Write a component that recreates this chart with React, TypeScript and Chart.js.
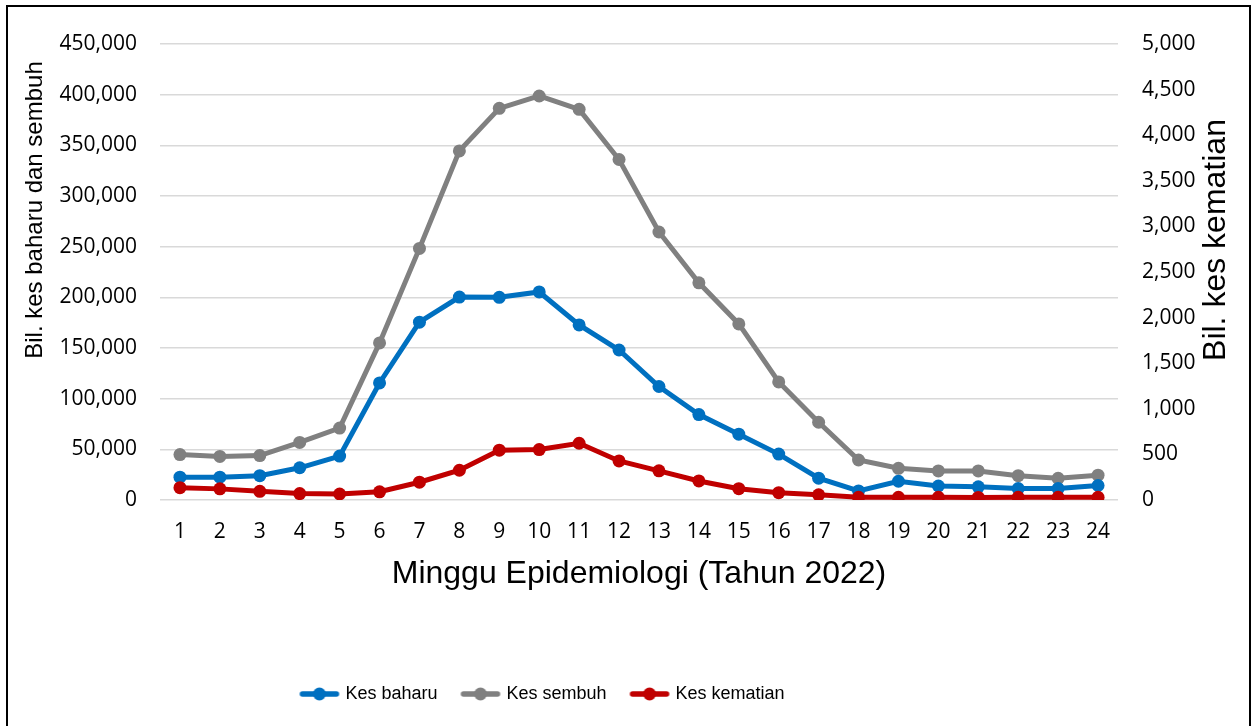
import React, { useEffect, useRef } from "react";
import { Chart, registerables } from "chart.js";

Chart.register(...registerables);

const weeks = ["1","2","3","4","5","6","7","8","9","10","11","12","13","14","15","16","17","18","19","20","21","22","23","24"];
const kesBaharu = [22500, 22500, 24000, 31800, 43300, 115500, 175500, 200300, 200000, 205300, 172800, 148000, 112000, 84300, 65000, 45300, 21500, 9000, 18500, 13800, 13000, 11300, 11300, 14300];
const kesSembuh = [44800, 43000, 43800, 56800, 71000, 155000, 248300, 344500, 386500, 398700, 385500, 336000, 264500, 214300, 173800, 116500, 76700, 39500, 31300, 28700, 28700, 24000, 21400, 24500];
const kesKematian = [135, 122, 95, 70, 66, 90, 195, 326, 546, 553, 622, 428, 320, 209, 124, 80, 57, 30, 30, 30, 28, 30, 30, 30];

const seriesLabels = ["Kes baharu", "Kes sembuh", "Kes kematian"];
const seriesColors = ["#0070C0", "#808080", "#C00000"];

const TICK_FONT = "'Open Sans', sans-serif";
const TEXT_FONT = "'Liberation Sans', Arial, sans-serif";

function makeIcon(color: string): HTMLCanvasElement {
  const c = document.createElement("canvas");
  c.width = 46;
  c.height = 16;
  const ctx = c.getContext("2d")!;
  ctx.strokeStyle = color;
  ctx.lineWidth = 5.5;
  ctx.lineCap = "round";
  ctx.beginPath();
  ctx.moveTo(6, 8);
  ctx.lineTo(40, 8);
  ctx.stroke();
  ctx.fillStyle = color;
  ctx.beginPath();
  ctx.arc(23, 8, 6.5, 0, Math.PI * 2);
  ctx.fill();
  return c;
}

export default function App() {
  const ref = useRef<HTMLCanvasElement | null>(null);

  useEffect(() => {
    if (!ref.current) return;
    const icons = seriesColors.map(makeIcon);

    const titlesPlugin = {
      id: "yTitles",
      afterLayout(chart: any) {
        const lg = chart.legend;
        if (lg) {
          lg.left -= 85;
          lg.right -= 85;
        }
      },
      afterDraw(chart: any) {
        const ctx = chart.ctx;
        ctx.save();
        ctx.fillStyle = "#000";
        ctx.textAlign = "center";
        ctx.textBaseline = "middle";
        ctx.font = `24px ${TEXT_FONT}`;
        ctx.translate(27, 203);
        ctx.rotate(-Math.PI / 2);
        ctx.fillText("Bil. kes baharu dan sembuh", 0, 0);
        ctx.restore();
        ctx.save();
        ctx.fillStyle = "#000";
        ctx.textAlign = "center";
        ctx.textBaseline = "middle";
        ctx.font = `32px ${TEXT_FONT}`;
        ctx.translate(1208, 233);
        ctx.rotate(-Math.PI / 2);
        ctx.fillText("Bil. kes kematian", 0, 0);
        ctx.restore();
      },
    };

    const common = {
      borderWidth: 5,
      pointRadius: 6.5,
      pointHoverRadius: 6.5,
      pointBorderWidth: 0,
      tension: 0,
      fill: false,
    };

    const chart = new Chart(ref.current, {
      type: "line",
      data: {
        labels: weeks,
        datasets: [
          { ...common, label: seriesLabels[0], data: kesBaharu, borderColor: seriesColors[0], backgroundColor: seriesColors[0], pointBackgroundColor: seriesColors[0], yAxisID: "y", order: 2 },
          { ...common, label: seriesLabels[1], data: kesSembuh, borderColor: seriesColors[1], backgroundColor: seriesColors[1], pointBackgroundColor: seriesColors[1], yAxisID: "y", order: 3 },
          { ...common, label: seriesLabels[2], data: kesKematian, borderColor: seriesColors[2], backgroundColor: seriesColors[2], pointBackgroundColor: seriesColors[2], yAxisID: "y1", order: 1 },
        ],
      },
      options: {
        responsive: false,
        animation: false,
        layout: { padding: { top: 37, left: 0, right: 0, bottom: 13 } },
        plugins: {
          tooltip: { enabled: false },
          legend: {
            position: "bottom",
            labels: {
              usePointStyle: true,
              pointStyleWidth: 34,
              padding: 26,
              color: "#000",
              font: { family: TEXT_FONT, size: 18 },
              generateLabels: (ch: any) =>
                ch.data.datasets.map((ds: any, i: number) => ({
                  text: ds.label,
                  fillStyle: ds.borderColor,
                  strokeStyle: ds.borderColor,
                  lineWidth: 0,
                  pointStyle: icons[i],
                  hidden: false,
                  datasetIndex: i,
                  fontColor: "#000",
                })),
            },
          },
        },
        scales: {
          x: {
            type: "category",
            offset: true,
            grid: { display: false },
            border: { display: false },
            ticks: { color: "#000", font: { family: TICK_FONT, size: 21 }, padding: 11, maxRotation: 0, autoSkip: false },
            title: {
              display: true,
              text: "Minggu Epidemiologi (Tahun 2022)",
              color: "#000",
              font: { family: TEXT_FONT, size: 32 },
              padding: { top: 0, bottom: 66 },
            },
            afterFit: (s: any) => { s.height = 159; },
          },
          y: {
            position: "left",
            min: 0,
            max: 450000,
            grid: { color: "#d9d9d9", lineWidth: 1.5, drawTicks: false },
            border: { display: false },
            ticks: {
              stepSize: 50000,
              color: "#000",
              font: { family: TICK_FONT, size: 21 },
              padding: 23,
              callback: (v: any) => Number(v).toLocaleString("en-US"),
            },
            afterFit: (s: any) => { s.width = 152; },
          },
          y1: {
            position: "right",
            min: 0,
            max: 5000,
            grid: { display: false, drawTicks: false },
            border: { display: false },
            ticks: {
              stepSize: 500,
              color: "#000",
              font: { family: TICK_FONT, size: 21 },
              padding: 24,
              callback: (v: any) => Number(v).toLocaleString("en-US"),
            },
            afterFit: (s: any) => { s.width = 131; },
          },
        },
      },
      plugins: [titlesPlugin],
    } as any);

    return () => chart.destroy();
  }, []);

  return (
    <div
      style={{
        position: "fixed",
        left: 6,
        top: 5,
        width: 1241,
        height: 740,
        border: "2px solid #000",
        background: "#fff",
      }}
    >
      <canvas ref={ref} width={1241} height={719} style={{ display: "block" }} />
    </div>
  );
}
